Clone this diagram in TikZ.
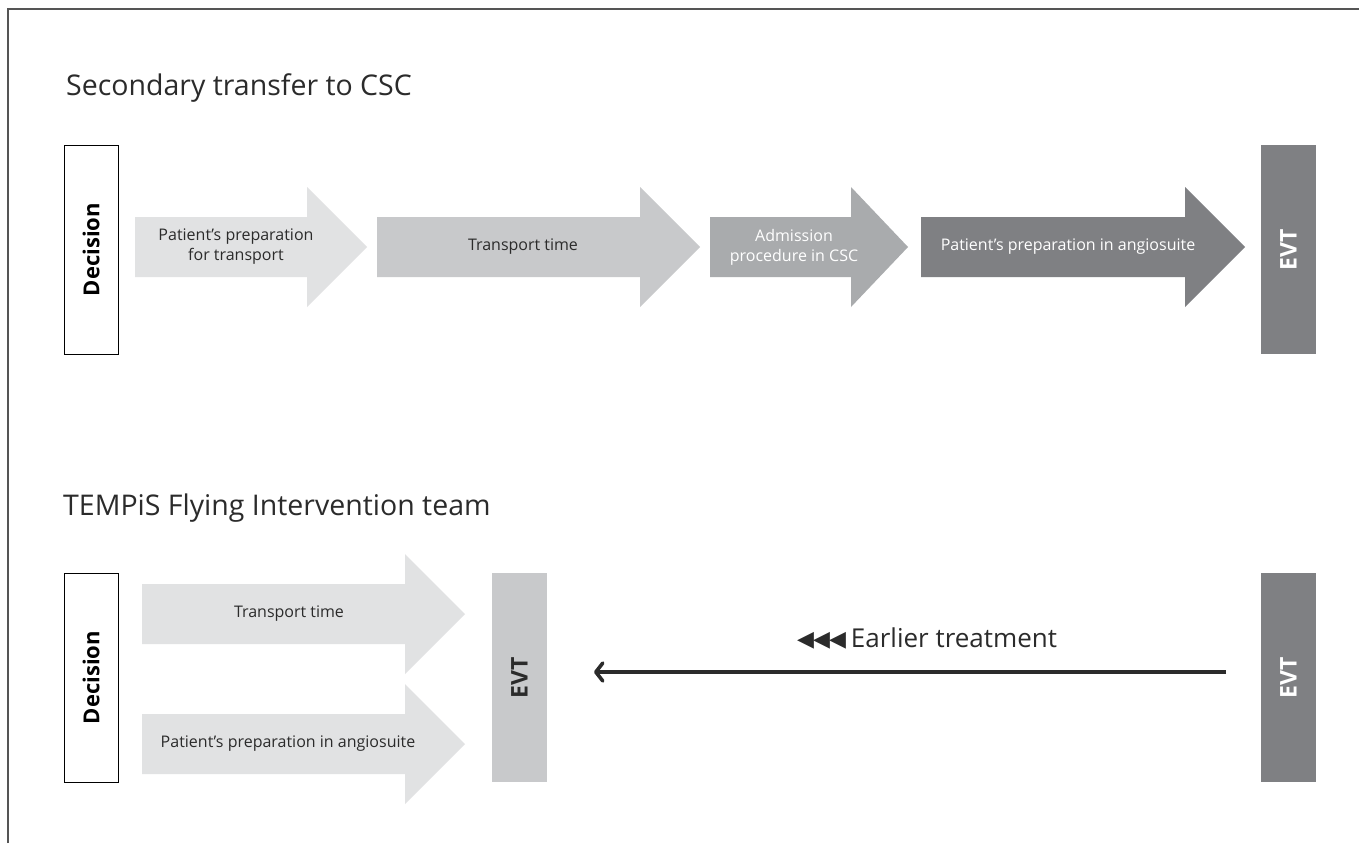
\documentclass[tikz,border=0pt]{standalone}
\usepackage{fontspec}
\setmainfont{Open Sans}
\newfontfamily\dejavu{DejaVu Sans}
\usetikzlibrary{arrows.meta}
\definecolor{gA}{HTML}{E1E2E3}
\definecolor{gB}{HTML}{C8C9CB}
\definecolor{gC}{HTML}{A9ABAD}
\definecolor{gD}{HTML}{7F8083}
\definecolor{txt}{HTML}{2B2B2B}
\definecolor{framec}{HTML}{555555}
% arrow polygon: #1 left x, #2 head base x, #3 tip x, #4 centre y, #5 fill
\newcommand\flowarr[5]{%
  \fill[#5] (#1,#4-30) -- (#2,#4-30) -- (#2,#4-60) -- (#3,#4) -- (#2,#4+60) -- (#2,#4+30) -- (#1,#4+30) -- cycle;}
\begin{document}
\begin{tikzpicture}[x=1pt,y=-1pt,
  decbox/.style={draw=black, line width=1pt, fill=white, minimum width=54pt, minimum height=209pt, inner sep=0pt},
  evtbox/.style={minimum width=55pt, minimum height=209pt, inner sep=0pt},
  vtext/.style={rotate=90, font=\bfseries\fontsize{22}{26}\selectfont},
  evttext/.style={rotate=90, font=\bfseries\fontsize{23}{26}\selectfont},
  boxtext/.style={font=\fontsize{16}{20}\selectfont, align=center},
  ttl/.style={anchor=base west, font=\fontsize{28.5}{32}\selectfont, text=txt, inner sep=0pt},
  longarr/.style={line width=3.6pt, -{Straight Barb[length=7pt, width=18pt, line cap=round, line join=round]}}
]
\useasboundingbox (0,0) rectangle (1359,843);
\fill[white] (0,0) rectangle (1359,843);
\draw[framec, line width=1.3pt] (8,843) -- (8,9) -- (1359,9);

% titles
\node[ttl] (t1) at (66,95) {Secondary transfer to CSC};
\node[ttl] (t2) at (63,515) {TEMPiS Flying Intervention team};

% top row
\node[decbox] (dec1) at (91,249.5) {};
\node[vtext, text=black] (dec1t) at (dec1.center) {Decision};
\flowarr{135}{307}{367}{247}{gA}
\node[boxtext, text=txt] (a1) at (236,247) {Patient’s preparation\\for transport};
\flowarr{377}{640}{700}{247}{gB}
\node[boxtext, text=txt] (a2) at (523,247) {Transport time};
\flowarr{710}{851}{908}{247}{gC}
\node[boxtext, text=white] (a3) at (794,247) {Admission\\procedure in CSC};
\flowarr{921}{1185}{1245}{247}{gD}
\node[boxtext, text=white] (a4) at (1068,247) {Patient’s preparation in angiosuite};
\node[evtbox, fill=gD] (evt1) at (1288.5,249.5) {};
\node[evttext, text=white] (evt1t) at (evt1.center) {EVT};

% bottom row
\node[decbox] (dec2) at (91,677.5) {};
\node[vtext, text=black] (dec2t) at (dec2.center) {Decision};
\flowarr{142}{405}{465}{614}{gA}
\node[boxtext, text=txt] (b1) at (289,614) {Transport time};
\flowarr{142}{405}{465}{744}{gA}
\node[boxtext, text=txt] (b2) at (288,744) {Patient’s preparation in angiosuite};
\node[evtbox, fill=gB] (evt2) at (519.5,677.5) {};
\node[evttext, text=txt] (evt2t) at (evt2.center) {EVT};
\node[evtbox, fill=gD] (evt3) at (1288.5,677.5) {};
\node[evttext, text=white] (evt3t) at (evt3.center) {EVT};

\coordinate (ls) at (1226,672);
\coordinate (le) at (594,672);
\draw[longarr, txt] (ls) -- (le);
\node[font=\fontsize{26}{30}\selectfont, text=txt, inner sep=0pt, anchor=base west] (lbl) at (797,647)
  {{\dejavu\fontsize{22}{26}\selectfont\raisebox{1pt}{◀\kern-1pt◀\kern-1pt◀}}\kern5pt Earlier treatment};
\end{tikzpicture}
\end{document}
